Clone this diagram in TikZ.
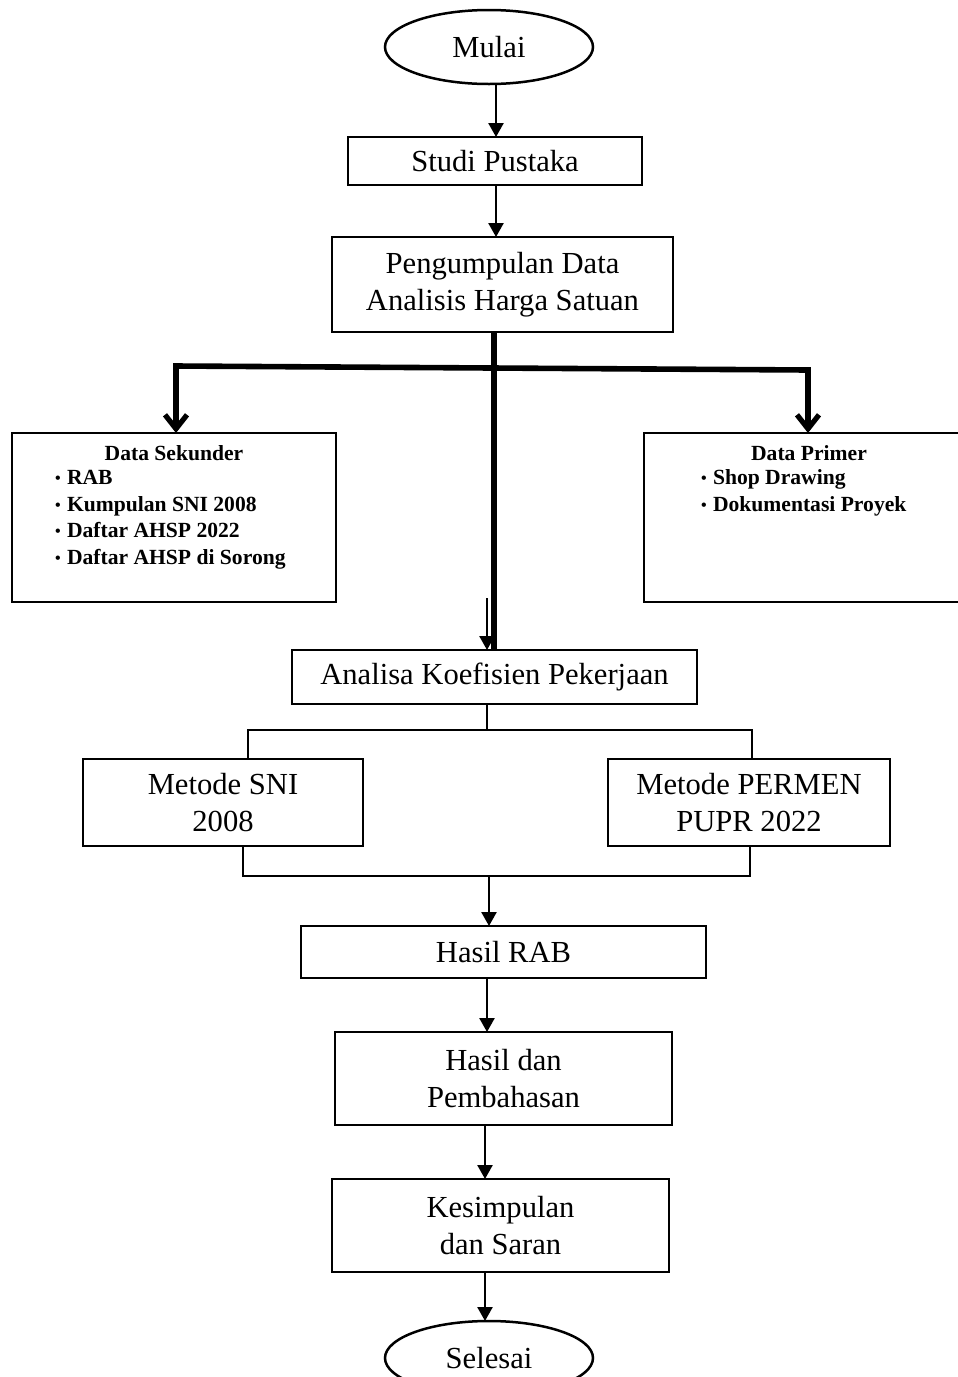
\documentclass[tikz,border=0pt]{standalone}
\usepackage{fontspec}
\setmainfont{Liberation Serif}
\usetikzlibrary{arrows.meta,shapes.geometric}
\newcommand\mfont{\fontsize{15.3}{18.4}\selectfont}
\newcommand\lfont{\bfseries\fontsize{10.8}{13.2}\selectfont}
\newcommand\bul{\makebox[6pt][l]{\raisebox{0.2pt}{\fontsize{8}{8}\selectfont\textbullet}}}
\tikzset{
  box/.style={draw, line width=1.25pt, outer sep=0pt, inner sep=0pt, align=center, font=\mfont},
  term/.style={ellipse, draw, line width=1.25pt, outer sep=0pt, inner sep=0pt, font=\mfont, minimum width=104pt, minimum height=37pt},
  ln/.style={line width=1.25pt},
  arr/.style={line width=1.25pt, -{Triangle[length=7pt,width=7.5pt]}},
  brline/.style={line width=2.8pt, line cap=rect},
  brarrow/.style={line width=2.8pt, -{Straight Barb[length=7pt,width=11pt,line width=2.6pt]}},
  lst/.style={font=\lfont, inner sep=0pt, outer sep=0pt, anchor=base west},
  lsttitle/.style={font=\lfont, inner sep=0pt, outer sep=0pt, anchor=base},
}
\begin{document}
\begin{tikzpicture}[x=0.5pt,y=-0.5pt]
\useasboundingbox (0,0) rectangle (958,1377);
\clip (0,0) rectangle (958,1377);
\fill[white] (0,0) rectangle (958,1377);

% nodes
\node[term] (mulai) at (489,47) {Mulai};
\node[box, minimum width=147pt, minimum height=24pt] (studi) at (495,161) {Studi Pustaka};
\node[box, minimum width=170.5pt, minimum height=47.5pt] (peng) at (502.5,284.5) {Pengumpulan Data\\Analisis Harga Satuan};
\node[box, minimum width=162pt, minimum height=84.5pt] (sek) at (174,517.5) {};
\node[box, minimum width=162pt, minimum height=84.5pt] (prim) at (806,517.5) {};
\node[box, minimum width=202.5pt, minimum height=27pt] (ana) at (494.5,677) {Analisa Koefisien Pekerjaan};
\node[box, minimum width=140pt, minimum height=43.5pt] (sni) at (223,802.5) {Metode SNI\\2008};
\node[box, minimum width=141pt, minimum height=43.5pt] (permen) at (749,802.5) {Metode PERMEN\\PUPR 2022};
\node[box, minimum width=202.5pt, minimum height=26pt] (rab) at (503.5,952) {Hasil RAB};
\node[box, minimum width=168.5pt, minimum height=46.5pt] (bahas) at (503.5,1078.5) {Hasil dan\\Pembahasan};
\node[box, minimum width=168.5pt, minimum height=46.5pt] (simp) at (500.5,1225.5) {Kesimpulan\\dan Saran};
\node[term] (selesai) at (489,1358) {Selesai};

% list texts
\node[lsttitle] (sekt) at (174,460) {Data Sekunder};
\node[lst] (sek1) at (55,484) {\bul RAB};
\node[lst] (sek2) at (55,511) {\bul Kumpulan SNI 2008};
\node[lst] (sek3) at (55,537) {\bul Daftar AHSP 2022};
\node[lst] (sek4) at (55,564) {\bul Daftar AHSP di Sorong};
\node[lsttitle] (primt) at (809,460) {Data Primer};
\node[lst] (prim1) at (701,484) {\bul Shop Drawing};
\node[lst] (prim2) at (701,511) {\bul Dokumentasi Proyek};

% helper coordinates
\coordinate (a1) at (496,0);
\coordinate (bL) at (176,366);
\coordinate (bR) at (808,370);
\coordinate (bM) at (494,368);
\coordinate (tA) at (487,598);
\coordinate (s1) at (487,730);
\coordinate (sL) at (248,730);
\coordinate (sR) at (752,730);
\coordinate (jL) at (243,876);
\coordinate (jR) at (750,876);
\coordinate (jM) at (489,876);
\coordinate (a5) at (487,0);
\coordinate (a6) at (485,0);

% connectors
\draw[arr] (mulai.south -| a1) -- (studi.north -| a1);
\draw[arr] (studi.south -| a1) -- (peng.north -| a1);
\draw[brline] (bL) -- (bR);
\draw[brarrow] (bL) -- (sek.north -| bL);
\draw[brarrow] (bR) -- (prim.north -| bR);
\draw[line width=2.8pt] (peng.south -| bM) -- (ana.north -| bM);
\draw[arr] (tA) -- (ana.north -| tA);
\draw[ln] (ana.south -| s1) -- (s1) -- (sL) -- (sni.north -| sL);
\draw[ln] (s1) -- (sR) -- (permen.north -| sR);
\draw[ln] (sni.south -| jL) -- (jL) -- (jR) -- (permen.south -| jR);
\draw[arr] (jM) -- (rab.north -| jM);
\draw[arr] (rab.south -| a5) -- (bahas.north -| a5);
\draw[arr] (bahas.south -| a6) -- (simp.north -| a6);
\draw[arr] (simp.south -| a6) -- (selesai.north -| a6);
\end{tikzpicture}
\end{document}
